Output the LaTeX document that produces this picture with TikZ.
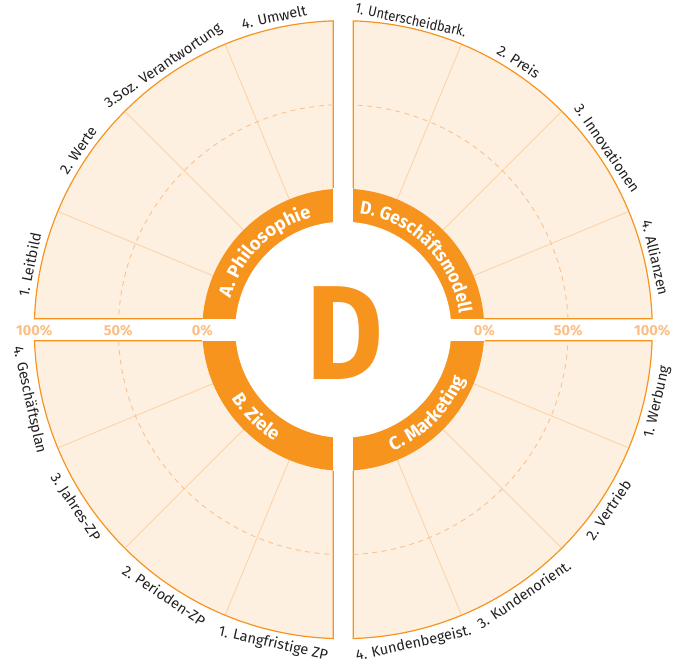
\documentclass[tikz,border=0pt]{standalone}
\usepackage{fontspec}
\setmainfont{Fira Sans}
\newfontfamily\narrowfnt[FakeStretch=0.93]{Fira Sans}
\newfontfamily\narrowlab[FakeStretch=0.89]{Fira Sans}
\usetikzlibrary{decorations.text}
\definecolor{org}{HTML}{F7941D}
\definecolor{pale}{HTML}{FEF0E1}
\definecolor{radcol}{HTML}{FDD3A8}
\definecolor{dashcol}{HTML}{FAC28E}
\definecolor{pctcol}{HTML}{FBBE84}
\definecolor{labcol}{HTML}{231F20}
\newcommand\ringfnt{\fontsize{18.5}{18.5}\selectfont\bfseries}
\newcommand\ringfntn{\narrowfnt\fontsize{18.5}{18.5}\selectfont\bfseries}
\tikzset{
  quad/.style={fill=pale, draw=org, line width=1.2pt},
  radline/.style={draw=radcol, line width=0.9pt},
  dashcircle/.style={draw=dashcol, line width=0.9pt, dash pattern=on 5pt off 4.5pt},
  lab/.style={font=\fontsize{14.5}{14.5}\selectfont, text=labcol, inner sep=0pt},
  pct/.style={font=\fontsize{14.5}{14.5}\selectfont\bfseries, text=pctcol, inner sep=0pt},
  ringtext/.style={decorate, decoration={text along path, text align=center, text color=white, text={|\ringfnt|#1}}},
  ringtextn/.style={decorate, decoration={text along path, text align=center, text color=white, text={|\ringfntn|#1}}},
}
\begin{document}
\begin{tikzpicture}[x=1pt,y=1pt]
\useasboundingbox (-343.3,-336.3) rectangle (341.7,329.7);
% quadrants
\draw[quad] (10,11) -- (2.040:309) arc[start angle=2.040, end angle=88.146, radius=309] -- cycle;
\draw[quad] (-10,11) -- (91.854:309) arc[start angle=91.854, end angle=177.960, radius=309] -- cycle;
\draw[quad] (-10,-11) -- (182.040:309) arc[start angle=182.040, end angle=268.146, radius=309] -- cycle;
\draw[quad] (10,-11) -- (271.854:309) arc[start angle=271.854, end angle=357.960, radius=309] -- cycle;
% radial lines
\foreach \a in {22.5,45,67.5,112.5,135,157.5,202.5,225,247.5,292.5,315,337.5}
  \draw[radline] (\a:108) -- (\a:308.3);
% dashed 50% circle
\draw[dashcircle] (2.80:225) arc[start angle=2.80, end angle=87.45, radius=225];
\draw[dashcircle] (92.55:225) arc[start angle=92.55, end angle=177.20, radius=225];
\draw[dashcircle] (182.80:225) arc[start angle=182.80, end angle=267.45, radius=225];
\draw[dashcircle] (272.55:225) arc[start angle=272.55, end angle=357.20, radius=225];
% ring
\fill[org] (0,0) circle[radius=141];
\fill[white] (0,0) circle[radius=108];
\fill[white] (-10,-141.5) rectangle (10,141.5);
\fill[white] (-141.5,-11) rectangle (141.5,11);
% ring texts
\path[ringtext={A. Philosophie}] (180:117) arc[start angle=180, end angle=90, radius=117];
\path[ringtextn={D. Geschäftsmodell}] (90:117) arc[start angle=90, end angle=0, radius=117];
\path[ringtext={B. Ziele}] (180:131) arc[start angle=180, end angle=270, radius=131];
\path[ringtext={C. Marketing}] (270:131) arc[start angle=270, end angle=360, radius=131];
% big D
\node[inner sep=0pt, text=org, font=\fontsize{134}{134}\selectfont\bfseries, xscale=0.88] (bigD) at (1.2,-3.3) {D};
% percentages
\node[pct] (pL0) at (-141,-1.3) {0\%};
\node[pct] (pL50) at (-225,-1.3) {50\%};
\node[pct] (pL100) at (-309,-1.3) {100\%};
\node[pct] (pR0) at (141,-1.3) {0\%};
\node[pct] (pR50) at (225,-1.3) {50\%};
\node[pct] (pR100) at (309,-1.3) {100\%};
% outer labels, top half
\foreach \a/\t [count=\i] in {168.3/1. Leitbild, 145.9/2. Werte, 124.3/3.Soz. Verantwortung, 102.5/4. Umwelt,
  56.8/2. Preis, 34.5/3. Innovationen, 13.0/4. Allianzen}
  \node[lab, anchor=base, rotate=\a-90] (top\i) at (\a:315) {\t};
\node[lab, font=\narrowlab\fontsize{14.5}{14.5}\selectfont, anchor=base, rotate=-12.3] (topU) at (77.7:312) {1. Unterscheidbark.};
% outer labels, bottom half
\foreach \a/\t [count=\i] in {347.0/1. Werbung, 325.8/2. Vertrieb, 304.3/3. Kundenorient., 282.6/4. Kundenbegeist.,
  257.4/1. Langfristige ZP, 236.0/2. Perioden-ZP, 213.5/3. Jahres-ZP, 192.6/4. Geschäftsplan}
  \node[lab, anchor=base, rotate=\a+90] (bot\i) at (\a:326) {\t};
\end{tikzpicture}
\end{document}
